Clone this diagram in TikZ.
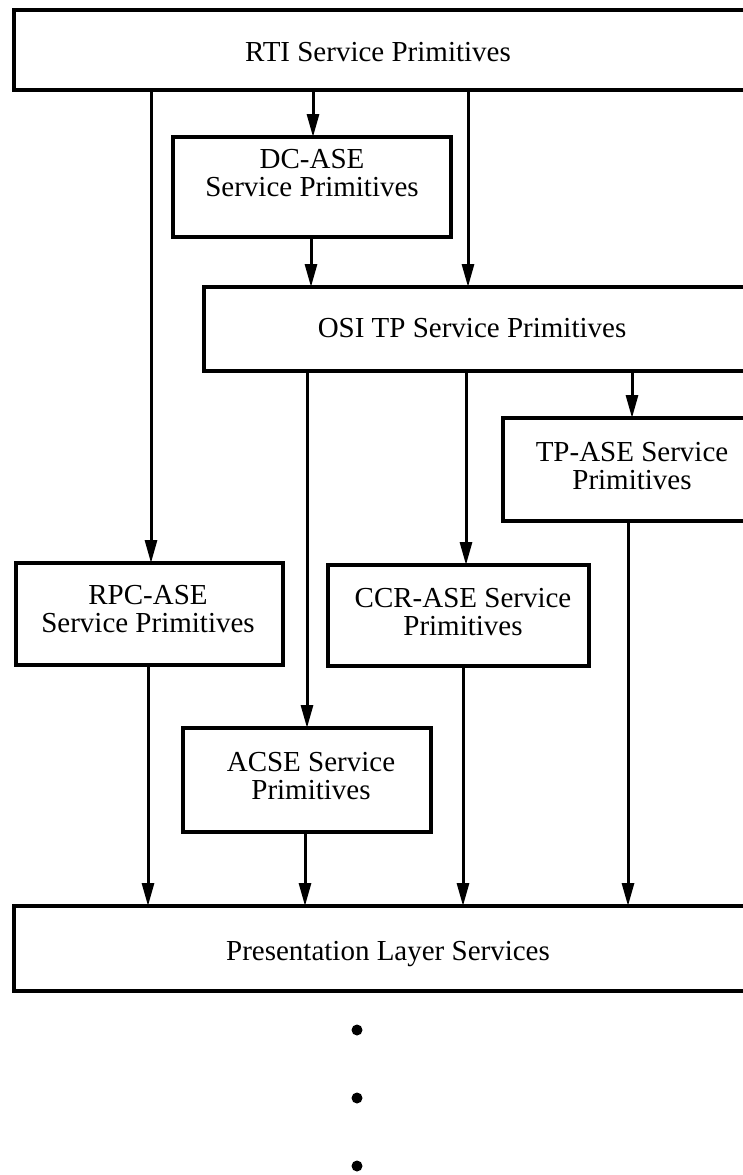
\documentclass[tikz,border=0pt]{standalone}
\usepackage{fontspec}
\setmainfont{Liberation Serif}
\usetikzlibrary{arrows.meta}
\begin{document}
\begin{tikzpicture}[x=1pt,y=-1pt,
  box/.style={draw, line width=3.3pt, rectangle, inner sep=0pt, outer sep=0pt, anchor=north west},
  lbl/.style={font=\fontsize{29}{28.5}\selectfont, align=center, inner sep=0pt},
  arr/.style={line width=3pt, -{Triangle[length=23pt,width=12pt]}},
  dot/.style={fill=black}]
\useasboundingbox (0,0) rectangle (743,1175);
\clip (0,0) rectangle (743,1175);

% boxes
\node[box, minimum width=746pt, minimum height=80pt]  (rti)  at (14,10)   {};
\node[box, minimum width=278pt, minimum height=100pt] (dc)   at (173,137)  {};
\node[box, minimum width=556pt, minimum height=84pt]  (osi)  at (204,287)  {};
\node[box, minimum width=257pt, minimum height=103pt] (tp)   at (503,418)  {};
\node[box, minimum width=267pt, minimum height=102pt] (rpc)  at (16,563)   {};
\node[box, minimum width=261pt, minimum height=101pt] (ccr)  at (328,565)  {};
\node[box, minimum width=248pt, minimum height=104pt] (acse) at (183,728)  {};
\node[box, minimum width=746pt, minimum height=85pt]  (pres) at (14,906)   {};

% texts
\node[lbl, anchor=base] (rtiT)  at (378,61)   {RTI Service Primitives};
\node[lbl]              (dcT)   at (312,173)  {DC-ASE\\Service Primitives};
\node[lbl, anchor=base] (osiT)  at (472,337)  {OSI TP Service Primitives};
\node[lbl]              (tpT)   at (632,466)  {TP-ASE Service\\Primitives};
\node[lbl]              (rpcT)  at (148,609)  {RPC-ASE\\Service Primitives};
\node[lbl]              (ccrT)  at (463,612)  {CCR-ASE Service\\Primitives};
\node[lbl]              (acseT) at (311,776)  {ACSE Service\\Primitives};
\node[lbl, anchor=base] (presT) at (388,960)  {Presentation Layer Services};

% x positions of the connectors
\coordinate (xa) at (151,0);
\coordinate (xb) at (313,0);
\coordinate (xc) at (468,0);
\coordinate (xd) at (311,0);
\coordinate (xe) at (307,0);
\coordinate (xf) at (466,0);
\coordinate (xg) at (632,0);
\coordinate (xh) at (148,0);
\coordinate (xi) at (305,0);
\coordinate (xj) at (463,0);
\coordinate (xk) at (628,0);

% connectors
\draw[arr] (rti.south -| xa) -- (rpc.north -| xa);
\draw[arr] (rti.south -| xb) -- (dc.north -| xb);
\draw[arr] (rti.south -| xc) -- (osi.north -| xc);
\draw[arr] (dc.south -| xd) -- (osi.north -| xd);
\draw[arr] (osi.south -| xe) -- (acse.north -| xe);
\draw[arr] (osi.south -| xf) -- (ccr.north -| xf);
\draw[arr] (osi.south -| xg) -- (tp.north -| xg);
\draw[arr] (rpc.south -| xh) -- (pres.north -| xh);
\draw[arr] (acse.south -| xi) -- (pres.north -| xi);
\draw[arr] (ccr.south -| xj) -- (pres.north -| xj);
\draw[arr] (tp.south -| xk) -- (pres.north -| xk);

% dots
\fill[dot] (357,1030) circle (5.5pt);
\fill[dot] (357,1098) circle (5.5pt);
\fill[dot] (357,1166) circle (5.5pt);
\end{tikzpicture}
\end{document}
